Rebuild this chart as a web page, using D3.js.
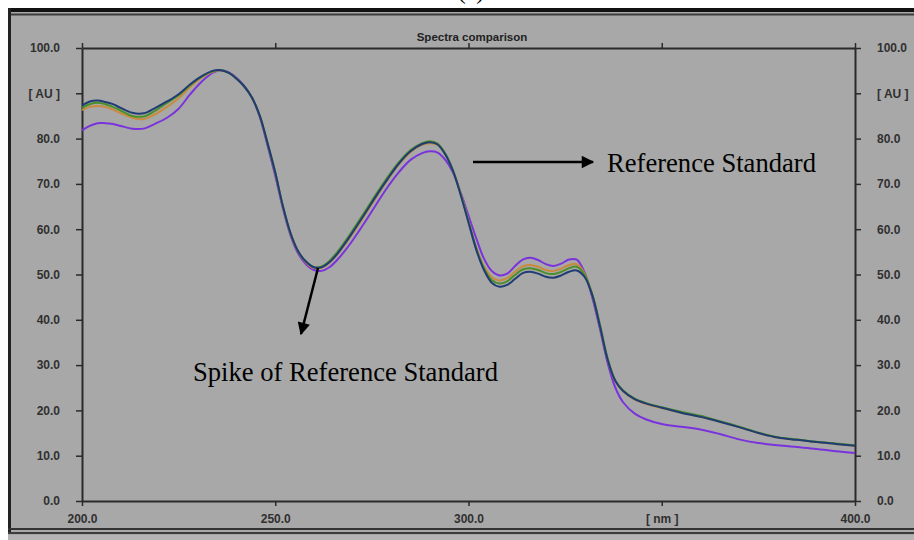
<!DOCTYPE html>
<html>
<head>
<meta charset="utf-8">
<script src="https://cdn.jsdelivr.net/npm/d3@7"></script>
<style>
  body { margin:0; background:#fff; }
  svg { display:block; }
  .axis text { font-family: Arial, "Liberation Sans", sans-serif; font-size:12px; font-weight:bold; fill:#303030; }
  .axis path, .axis line { stroke:#2a2a2a; }
</style>
</head>
<body>
<div id="chart"></div>
<script>
// wavelengths [nm] shared by all spectra
const wavelengths = [200,202,204,206,208,210,213,216,219,222,225,228,231,234,236,238,240,242,244,246,248,250,252,254,256,258,260,262,264,266,268,270,273,276,279,282,285,288,290,292,294,296,298,300,302,304,306,308,310,312,314,316,318,320,322,324,326,328,330,332,334,336,338,340,343,346,350,355,360,365,370,375,380,385,390,395,400];

// absorbance [AU], one array per spectrum
const blueSpectrum = [87.3,88.2,88.4,88.1,87.6,86.8,85.7,85.6,86.8,88.2,89.8,92.0,93.8,95.0,95.1,94.5,93.2,91.5,89.0,85.0,79.0,72.5,65.0,59.0,55.0,52.8,51.6,51.6,52.7,54.5,56.8,59.3,63.2,67.2,71.0,74.5,77.2,78.8,79.2,78.7,76.5,72.8,67.5,61.5,55.5,51.0,48.2,47.3,47.7,49.0,50.3,50.6,50.2,49.5,49.3,49.8,50.6,50.9,49.5,45.5,38.6,31.2,26.5,24.3,22.5,21.5,20.6,19.5,18.6,17.5,16.3,15.0,14.0,13.5,13.0,12.6,12.2];
const greenSpectrum = [86.8,87.6,87.9,87.6,87.0,86.2,85.0,84.9,86.2,87.9,89.6,91.8,93.7,94.9,95.1,94.5,93.2,91.5,89.0,85.0,79.0,72.5,65.0,59.0,55.0,52.8,51.6,51.8,53.0,54.9,57.2,59.7,63.6,67.6,71.4,74.8,77.5,79.0,79.4,78.9,76.7,73.0,67.7,61.7,55.8,51.4,48.8,48.0,48.5,49.9,51.1,51.4,51.0,50.3,50.1,50.6,51.4,51.7,50.0,45.7,39.0,31.5,26.6,24.4,22.6,21.6,20.7,19.7,18.8,17.6,16.4,15.1,14.1,13.6,13.1,12.7,12.3];
const orangeSpectrum = [86.3,87.0,87.2,87.0,86.4,85.6,84.6,84.3,85.4,87.0,88.9,91.4,93.5,94.8,95.1,94.5,93.2,91.5,89.0,85.0,79.0,72.4,64.9,58.9,54.9,52.6,51.4,51.5,52.6,54.4,56.6,59.0,62.9,66.9,70.8,74.3,77.0,78.6,79.0,78.6,76.5,72.9,67.8,61.9,56.0,51.8,49.4,48.7,49.2,50.6,51.8,52.1,51.7,51.0,50.8,51.3,52.1,52.3,50.3,45.5,38.6,31.2,26.4,24.2,22.4,21.4,20.5,19.5,18.6,17.5,16.3,15.0,14.0,13.5,13.0,12.6,12.2];
const purpleSpectrum = [81.8,82.8,83.4,83.4,83.2,82.8,82.2,82.2,83.3,84.6,86.6,89.8,92.6,94.6,95.1,94.6,93.4,91.6,89.0,84.8,78.5,71.8,64.5,58.5,54.5,52.2,51.0,50.8,51.6,53.2,55.2,57.5,61.3,65.3,69.2,72.6,75.3,76.8,77.2,76.9,75.3,72.5,68.0,63.0,58.0,53.5,50.8,49.8,50.2,51.8,53.3,53.7,53.2,52.3,51.9,52.4,53.3,53.3,50.5,45.0,38.0,30.5,25.0,21.8,19.3,18.0,17.0,16.4,15.8,14.8,13.6,12.8,12.3,11.9,11.5,11.0,10.6];

const seriesNames = ["purple","orange","green","blue"];
const seriesValues = [purpleSpectrum, orangeSpectrum, greenSpectrum, blueSpectrum];
const seriesColors = ["#7a33dc","#c98a3e","#4a8f2a","#203c74"];

const yTicks = [0,10,20,30,40,50,60,70,80,90,100];
const xTicks = [200,250,300,350,400];
const yLabel = "[ AU ]";   // written in place of 90.0
const xLabel = "[ nm ]";   // written in place of 350.0
const title = "Spectra comparison";

const W = 914, H = 540;
const plot = {left:82, right:855, top:48, bottom:501};

const svg = d3.select("#chart").append("svg")
  .attr("width", W)
  .attr("height", H);

// "(a)" caption, cut by the top edge as in the scan
svg.append("text")
  .attr("x", 471).attr("y", -1)
  .attr("text-anchor", "middle")
  .style("font-family", "'Liberation Serif','Times New Roman',serif")
  .style("font-size", "24px")
  .text("(a)");

// grey panel and its frame
svg.append("rect").attr("x", 8).attr("y", 8).attr("width", W-8).attr("height", H-8).attr("fill", "#a8a8a8");
svg.append("rect").attr("x", 8).attr("y", 535).attr("width", W-8).attr("height", 5).attr("fill", "#b4b4b4");
const frame = svg.append("g").attr("fill", "none");
frame.append("line").attr("x1", 8).attr("x2", W).attr("y1", 10).attr("y2", 10).attr("stroke", "#111").attr("stroke-width", 4);
frame.append("line").attr("x1", 8).attr("x2", W).attr("y1", 14.5).attr("y2", 14.5).attr("stroke", "#3c3c3c").attr("stroke-width", 2);
frame.append("line").attr("x1", 9.5).attr("x2", 9.5).attr("y1", 8).attr("y2", 534).attr("stroke", "#222").attr("stroke-width", 3);
frame.append("line").attr("x1", 8).attr("x2", W).attr("y1", 529).attr("y2", 529).attr("stroke", "#333").attr("stroke-width", 2);
frame.append("line").attr("x1", 8).attr("x2", W).attr("y1", 533).attr("y2", 533).attr("stroke", "#3c3c3c").attr("stroke-width", 2);

// scales
const x = d3.scaleLinear().domain([200,400]).range([plot.left, plot.right]);
const y = d3.scaleLinear().domain([0,100]).range([plot.bottom, plot.top]);

const yFormat = d => d === 90 ? yLabel : d.toFixed(1);
const xFormat = d => d === 350 ? xLabel : d.toFixed(1);

// axes
const axes = svg.append("g").attr("class", "axis");
axes.append("g")
  .attr("transform", `translate(${plot.left},0)`)
  .call(d3.axisLeft(y).tickValues(yTicks).tickFormat(yFormat).tickSize(6).tickSizeOuter(0).tickPadding(16));
axes.append("g")
  .attr("transform", `translate(${plot.right},0)`)
  .call(d3.axisRight(y).tickValues(yTicks).tickFormat(yFormat).tickSize(6).tickSizeOuter(0).tickPadding(16));
axes.append("g")
  .attr("transform", `translate(0,${plot.bottom})`)
  .call(d3.axisBottom(x).tickValues(xTicks).tickFormat(xFormat).tickSize(5).tickSizeOuter(0).tickPadding(8));
axes.append("g")
  .attr("transform", `translate(0,${plot.top})`)
  .call(d3.axisTop(x).tickValues(xTicks).tickFormat("").tickSize(5).tickSizeOuter(0));
axes.selectAll("path.domain").attr("stroke-width", 2);
axes.selectAll(".tick line").attr("stroke-width", 1.5);

svg.append("text")
  .attr("x", 472).attr("y", 41)
  .attr("text-anchor", "middle")
  .style("font-family", "Arial, 'Liberation Sans', sans-serif")
  .style("font-size", "11.5px")
  .style("font-weight", "bold")
  .attr("fill", "#222")
  .text(title);

// spectra
const line = d3.line()
  .x((d,i) => x(wavelengths[i]))
  .y(d => y(d))
  .curve(d3.curveCatmullRom);

svg.append("g").selectAll("path")
  .data(seriesValues)
  .join("path")
  .attr("class", (d,i) => "spectrum " + seriesNames[i])
  .attr("fill", "none")
  .attr("stroke", (d,i) => seriesColors[i])
  .attr("stroke-width", 2)
  .attr("d", line);

// annotations
svg.append("defs").append("marker")
  .attr("id", "head")
  .attr("viewBox", "0 0 10 10")
  .attr("refX", 9).attr("refY", 5)
  .attr("markerWidth", 6).attr("markerHeight", 5)
  .attr("markerUnits", "strokeWidth")
  .attr("orient", "auto")
  .append("path").attr("d", "M0,0L10,5L0,10Z").attr("fill", "#000");

const notes = svg.append("g")
  .style("font-family", "'Liberation Serif','Times New Roman',serif")
  .style("font-size", "26.6px");
notes.append("line")
  .attr("x1", 473).attr("y1", 162).attr("x2", 593).attr("y2", 162)
  .attr("stroke", "#000").attr("stroke-width", 2.5).attr("marker-end", "url(#head)");
notes.append("text").attr("x", 607).attr("y", 172).text("Reference Standard");
notes.append("line")
  .attr("x1", 318).attr("y1", 268).attr("x2", 301).attr("y2", 334)
  .attr("stroke", "#000").attr("stroke-width", 2.5).attr("marker-end", "url(#head)");
notes.append("text").attr("x", 193).attr("y", 381).text("Spike of Reference Standard");
</script>
</body>
</html>
